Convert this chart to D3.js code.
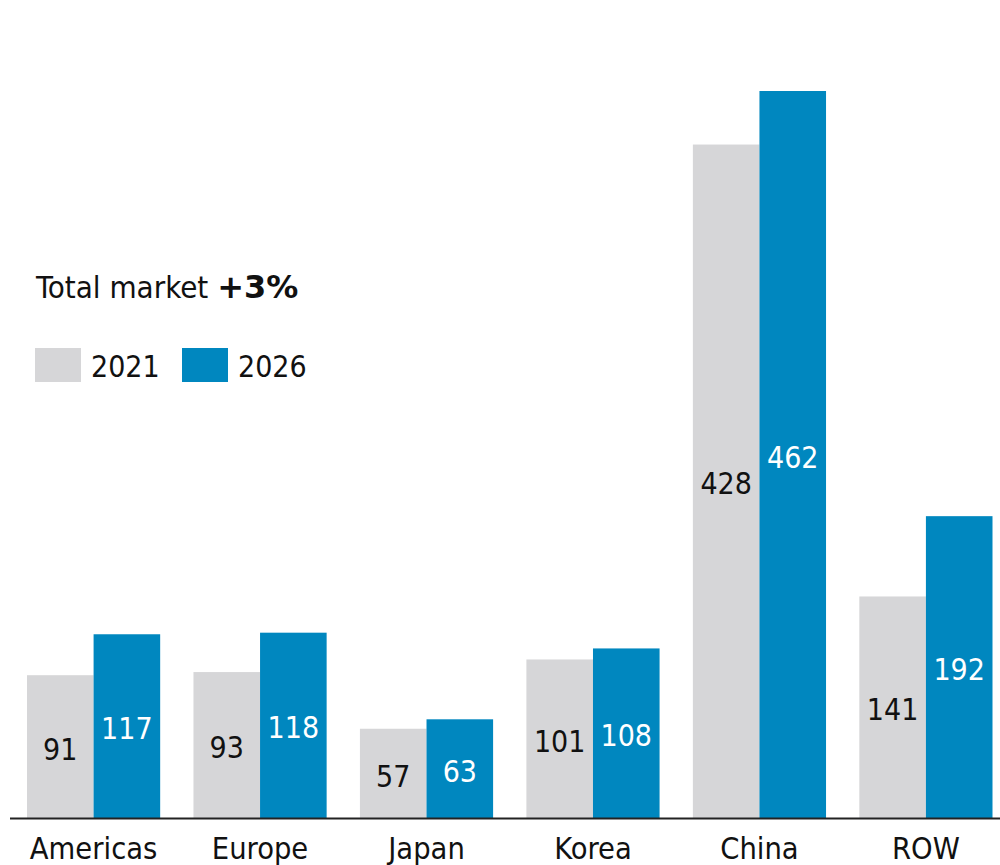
<!DOCTYPE html>
<html>
<head>
<meta charset="utf-8">
<script src="https://cdn.jsdelivr.net/npm/d3@7"></script>
<style>
  html, body { margin: 0; padding: 0; background: #fff; }
  svg { display: block; }
  text { font-family: "DejaVu Sans Condensed", "DejaVu Sans", sans-serif; font-stretch: condensed; }
  .bold { font-family: "DejaVu Sans", sans-serif; font-stretch: normal; font-weight: bold; }
</style>
</head>
<body>
<svg id="chart" width="1000" height="865"></svg>
<script>
// Regional market size, 2021 vs 2026
const regions = ["Americas", "Europe", "Japan", "Korea", "China", "ROW"];
const years = ["2021", "2026"];
const values2021 = [91, 93, 57, 101, 428, 141];
const values2026 = [117, 118, 63, 108, 462, 192];
const yearColors = ["#d6d6d8", "#0087bf"];
const labelColors = ["#111111", "#ffffff"];
const fontFamily = "'DejaVu Sans Condensed', 'DejaVu Sans', sans-serif";

const series = [values2021, values2026];
const rows = regions.map((r, i) => ({
  region: r,
  bars: years.map((y, j) => ({ year: y, value: series[j][i], idx: j }))
}));

const svg = d3.select("#chart");
const baseline = 818.5;

const x0 = d3.scaleBand()
  .domain(regions)
  .range([27, 992.5])
  .paddingInner(0.2)
  .paddingOuter(0);

const x1 = d3.scaleBand()
  .domain(years)
  .range([0, x0.bandwidth()])
  .padding(0);

const maxVal = d3.max(values2026.concat(values2021));
const y = d3.scaleLinear()
  .domain([0, maxVal])
  .range([baseline, 91]);

const groups = svg.append("g")
  .selectAll("g")
  .data(rows)
  .join("g")
  .attr("transform", d => `translate(${x0(d.region)},0)`);

groups.selectAll("rect")
  .data(d => d.bars)
  .join("rect")
  .attr("x", d => x1(d.year))
  .attr("width", x1.bandwidth())
  .attr("y", d => y(d.value))
  .attr("height", d => baseline - y(d.value))
  .attr("fill", d => yearColors[d.idx]);

groups.selectAll("text.value")
  .data(d => d.bars)
  .join("text")
  .attr("class", "value")
  .attr("x", d => x1(d.year) + x1.bandwidth() / 2)
  .attr("y", d => (y(d.value) + baseline) / 2)
  .attr("dy", "0.43em")
  .attr("text-anchor", "middle")
  .attr("font-size", 30)
  .attr("fill", d => labelColors[d.idx])
  .text(d => d.value);

// Category axis
const xAxis = d3.axisBottom(x0).tickSize(0).tickPadding(19);
const axisG = svg.append("g")
  .attr("transform", `translate(0,${baseline})`)
  .call(xAxis);
axisG.select(".domain").remove();
axisG.selectAll("text")
  .attr("font-size", 30.5)
  .attr("font-family", fontFamily)
  .attr("fill", "#111");
svg.append("line")
  .attr("x1", 10).attr("x2", 1000)
  .attr("y1", baseline).attr("y2", baseline)
  .attr("stroke", "#222")
  .attr("stroke-width", 2);

// Title and legend
const title = svg.append("text")
  .attr("x", 36).attr("y", 298)
  .attr("font-size", 31)
  .attr("fill", "#111");
title.append("tspan").text("Total market ");
title.append("tspan").attr("class", "bold").attr("font-size", 32).text("+3%");

const legend = svg.append("g")
  .selectAll("g")
  .data(years)
  .join("g")
  .attr("transform", (d, i) => `translate(${35 + i * 147},348)`);
legend.append("rect")
  .attr("width", 46).attr("height", 34)
  .attr("fill", (d, i) => yearColors[i]);
legend.append("text")
  .attr("x", 56).attr("y", 29)
  .attr("font-size", 30)
  .attr("fill", "#111")
  .text(d => d);
</script>
</body>
</html>
